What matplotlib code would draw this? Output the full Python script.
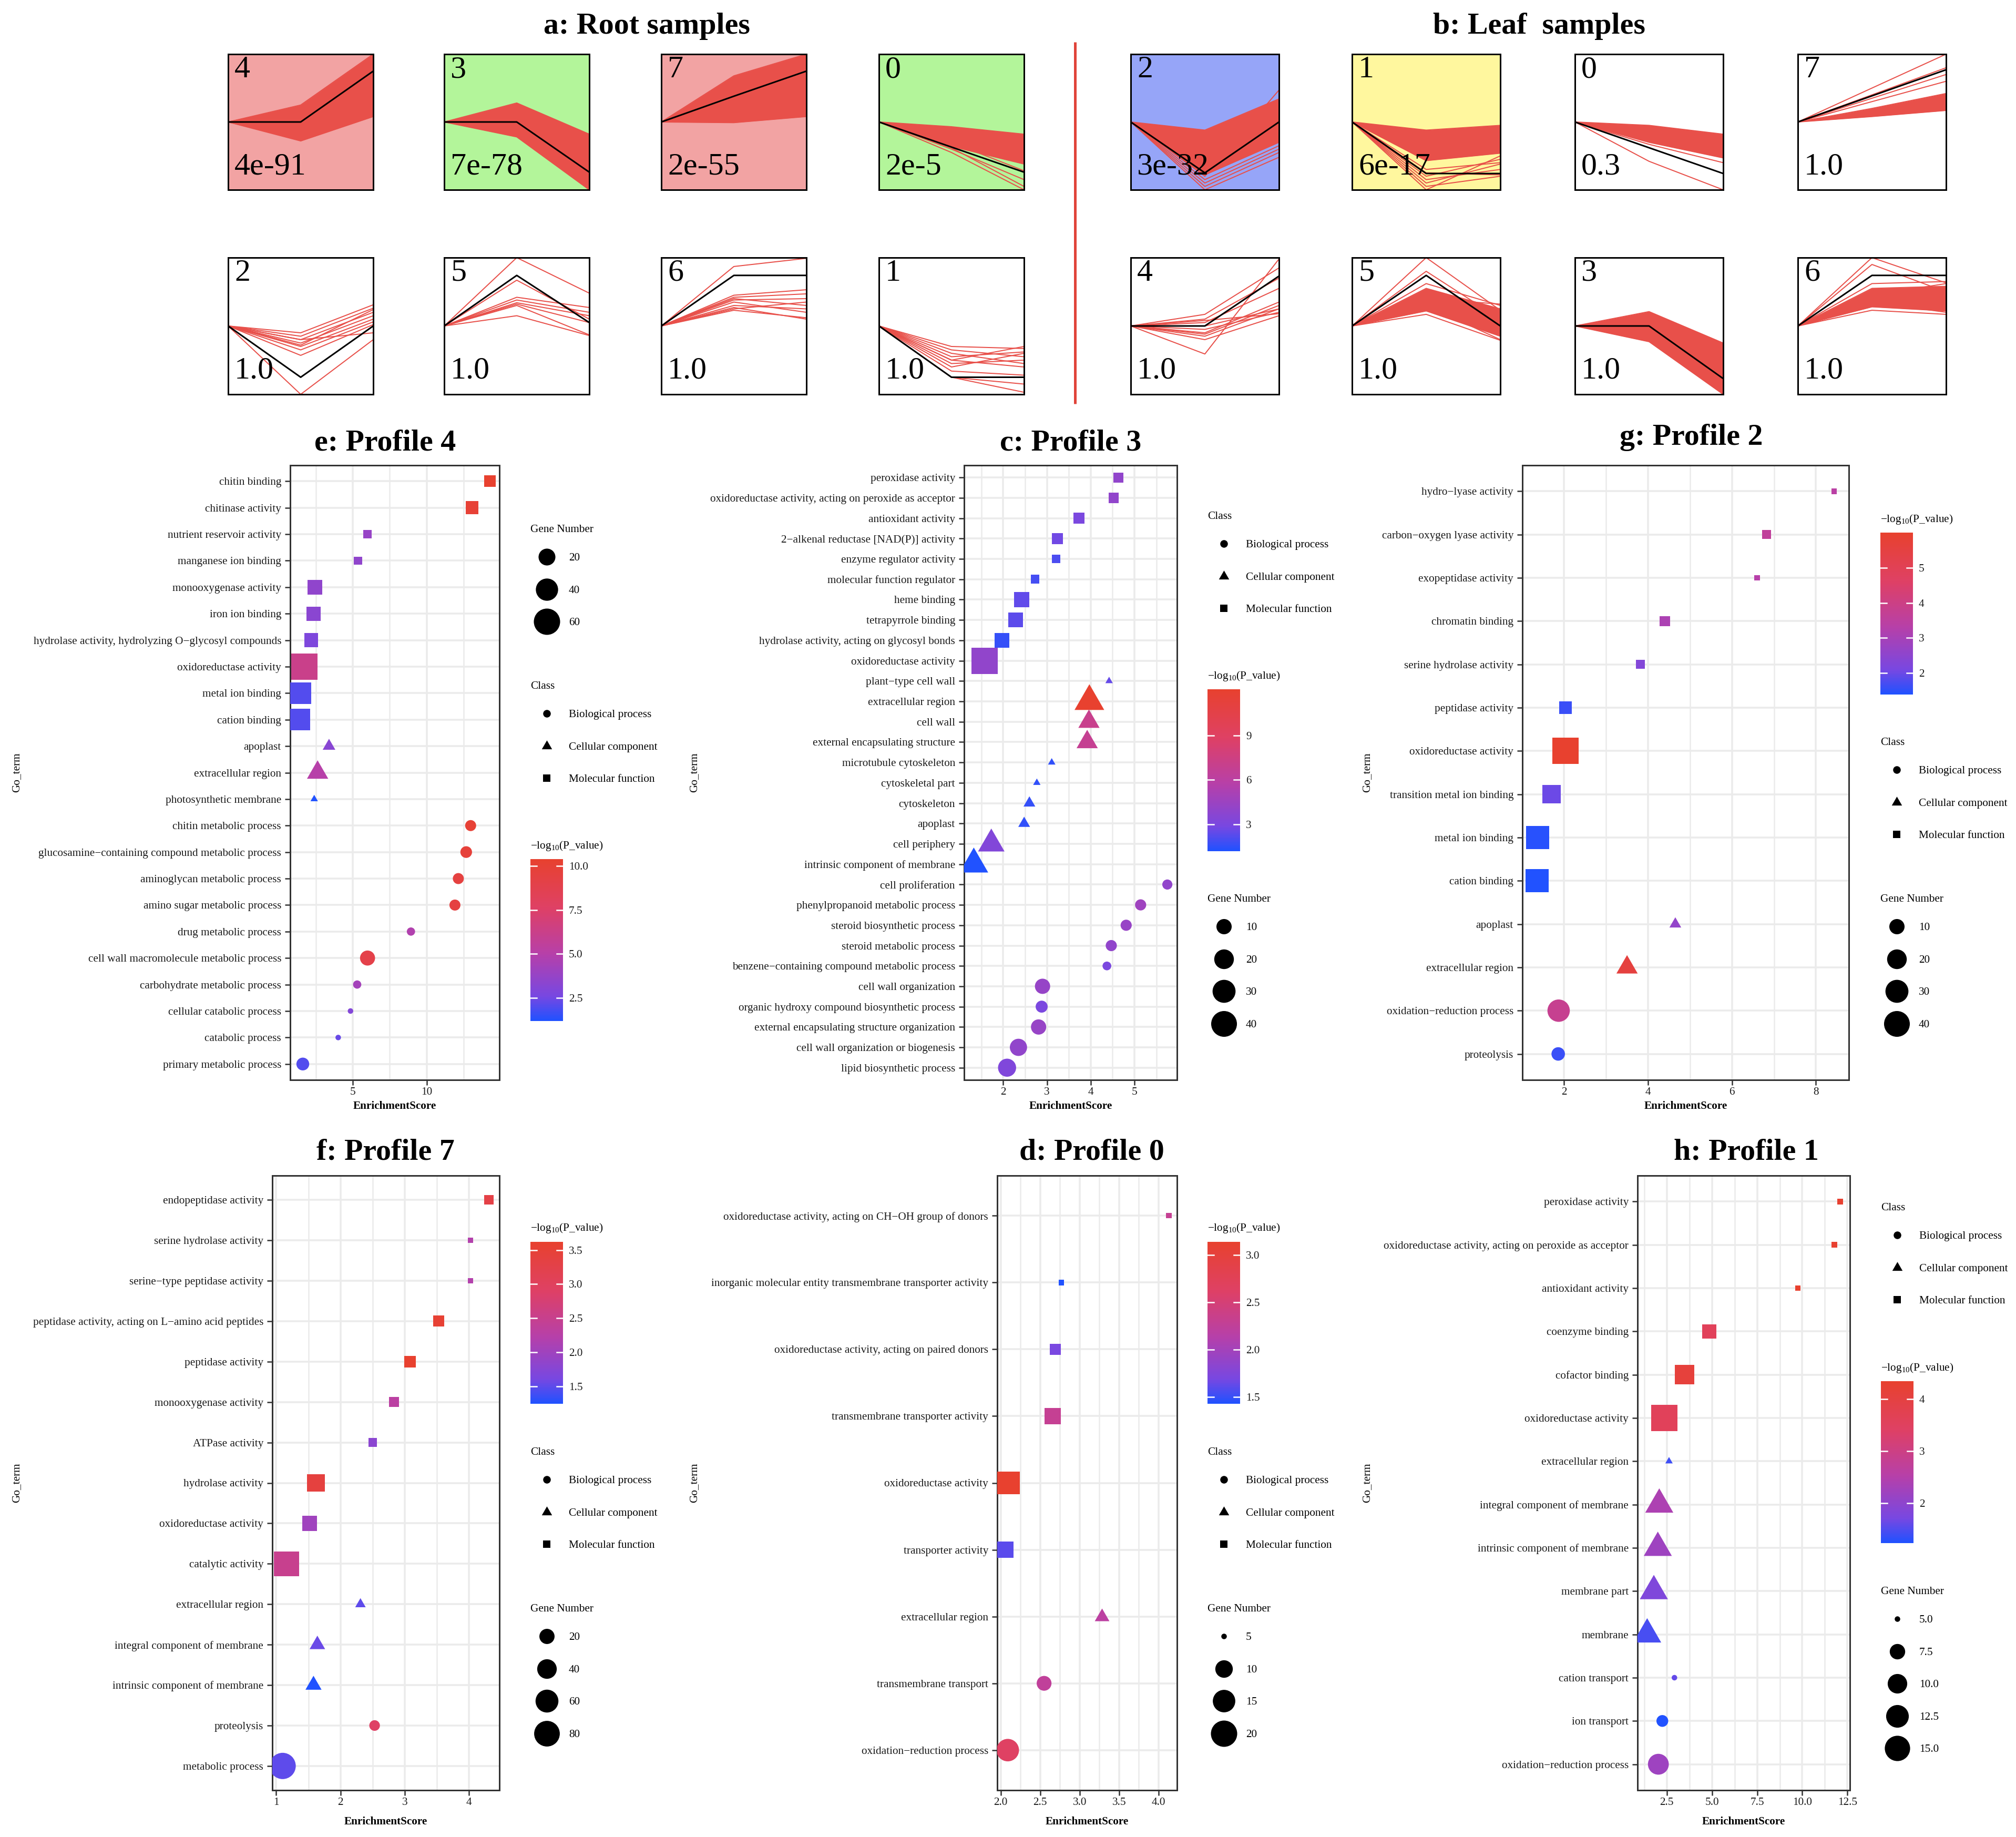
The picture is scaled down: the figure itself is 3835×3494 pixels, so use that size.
import numpy as np
import matplotlib
matplotlib.use("Agg")
import matplotlib.pyplot as plt
from matplotlib.colors import LinearSegmentedColormap, Normalize
from matplotlib.ticker import MultipleLocator, FormatStrFormatter

W, H = 3835, 3494

plt.rcParams['font.family'] = ['Liberation Serif', 'DejaVu Serif']
plt.rcParams['mathtext.fontset'] = 'custom'
plt.rcParams['mathtext.rm'] = 'Liberation Serif'
plt.rcParams['mathtext.it'] = 'Liberation Serif:italic'
plt.rcParams['mathtext.bf'] = 'Liberation Serif:bold'

# ---------------- STEM expression profiles ----------------
time_points = [0, 1, 2]

root_ids = ['4', '3', '7', '0', '2', '5', '6', '1']
root_pvals = ['4e-91', '7e-78', '2e-55', '2e-5', '1.0', '1.0', '1.0', '1.0']
root_bg = ['#f2a3a3', '#b3f59a', '#f2a3a3', '#b3f59a', 'white', 'white', 'white', 'white']
root_model = [[0, 0, 0.75], [0, 0, -0.74], [0, 0.38, 0.75], [0, -0.37, -0.74],
              [0, -0.75, 0], [0, 0.74, 0.05], [0, 0.74, 0.74], [0, -0.75, -0.75]]
root_band_lo = [[0, -0.28, 0.08], [0, -0.22, -1.0], [0, -0.01, 0.08], [0, -0.36, -0.62],
                None, None, None, None]
root_band_hi = [[0, 0.25, 1.0], [0, 0.28, -0.18], [0, 0.68, 1.0], [0, -0.07, -0.18],
                None, None, None, None]
root_genes = [
    [[0, 0.22, 0.95], [0, -0.25, 0.1]],
    [[0, 0.2, -0.9], [0, 0.1, -1.0], [0, -0.15, -0.95]],
    [[0, 0.6, 0.95], [0, 0.05, 0.15]],
    [[0, -0.4, -0.85], [0, -0.45, -1.0], [0, -0.38, -0.95], [0, -0.3, -0.72]],
    [[0, -1.0, -0.2], [0, -0.1, 0.31], [0, -0.15, 0.26], [0, -0.2, 0.2], [0, -0.25, 0.15],
     [0, -0.3, 0.1], [0, -0.35, 0.06], [0, -0.43, 0.02], [0, -0.2, -0.1], [0, -0.28, 0.24]],
    [[0, 1.0, 0.48], [0, 0.67, 0.1], [0, 0.42, 0.27], [0, 0.38, 0.2], [0, 0.34, 0.15],
     [0, 0.3, -0.13], [0, 0.15, -0.14], [0, 0.32, 0.05]],
    [[0, 0.87, 0.99], [0, 0.45, 0.53], [0, 0.42, 0.47], [0, 0.4, 0.3], [0, 0.35, 0.2],
     [0, 0.3, 0.25], [0, 0.27, 0.1], [0, 0.25, 0.35], [0, 0.23, 0.12], [0, 0.38, 0.4]],
    [[0, -0.3, -0.33], [0, -0.35, -0.45], [0, -0.4, -0.55], [0, -0.45, -0.38], [0, -0.5, -0.6],
     [0, -0.55, -0.5], [0, -0.6, -0.4], [0, -0.66, -0.72], [0, -0.75, -0.85], [0, -0.75, -0.97],
     [0, -0.5, -0.3]],
]

leaf_ids = ['2', '1', '0', '7', '4', '5', '3', '6']
leaf_pvals = ['3e-32', '6e-17', '0.3', '1.0', '1.0', '1.0', '1.0', '1.0']
leaf_bg = ['#96a5f8', '#fff79e', 'white', 'white', 'white', 'white', 'white', 'white']
leaf_model = [[0, -0.75, 0], [0, -0.76, -0.76], [0, -0.38, -0.76], [0, 0.385, 0.77],
              [0, 0, 0.73], [0, 0.74, 0.0], [0, 0, -0.77], [0, 0.74, 0.74]]
leaf_band_lo = [[0, -0.78, -0.3], [0, -0.57, -0.46], [0, -0.3, -0.53], [0, 0.08, 0.17],
                None, [0, 0.22, -0.15], [0, -0.23, -1.0], [0, 0.28, 0.22]]
leaf_band_hi = [[0, -0.12, 0.34], [0, -0.12, -0.05], [0, -0.05, -0.18], [0, 0.2, 0.42],
                None, [0, 0.55, 0.25], [0, 0.21, -0.25], [0, 0.55, 0.58]]
leaf_genes = [
    [[0, -1.0, -0.52], [0, -0.95, -0.45], [0, -0.9, -0.4], [0, -0.85, -0.35], [0, -0.8, 0.47]],
    [[0, -1.0, -0.5], [0, -0.95, -0.8], [0, -0.9, -0.62], [0, -0.85, -0.7], [0, -0.8, -0.55],
     [0, -0.75, -0.78], [0, -0.7, -0.6]],
    [[0, -0.58, -1.0], [0, -0.33, -0.6]],
    [[0, 0.5, 1.0], [0, 0.4, 0.8], [0, 0.35, 0.7], [0, 0.3, 0.6]],
    [[0, -0.41, 0.98], [0, 0.17, 0.85], [0, 0.1, 0.7], [0, 0.05, 0.55], [0, -0.1, 0.35],
     [0, -0.15, 0.25], [0, -0.2, 0.15], [0, -0.05, 0.2], [0, 0.0, 0.25], [0, -0.12, 0.3],
     [0, 0.08, 0.18]],
    [[0, 1.0, 0.23], [0, 0.8, 0.1], [0, 0.5, -0.1], [0, 0.62, 0.3], [0, 0.17, -0.21],
     [0, 0.4, 0.32], [0, 0.3, -0.2]],
    [[0, 0.15, -0.95], [0, -0.1, -0.6]],
    [[0, 1.0, 0.63], [0, 0.9, 0.5], [0, 0.62, 0.65], [0, 0.23, 0.17], [0, 0.45, 0.62],
     [0, 0.35, 0.2]],
]

# ---------------- GO enrichment data (top to bottom) ----------------
e_terms = ['chitin binding', 'chitinase activity', 'nutrient reservoir activity',
           'manganese ion binding', 'monooxygenase activity', 'iron ion binding',
           'hydrolase activity, hydrolyzing O\u2212glycosyl compounds', 'oxidoreductase activity',
           'metal ion binding', 'cation binding', 'apoplast', 'extracellular region',
           'photosynthetic membrane', 'chitin metabolic process',
           'glucosamine\u2212containing compound metabolic process', 'aminoglycan metabolic process',
           'amino sugar metabolic process', 'drug metabolic process',
           'cell wall macromolecule metabolic process', 'carbohydrate metabolic process',
           'cellular catabolic process', 'catabolic process', 'primary metabolic process']
e_class = ['MF'] * 10 + ['CC'] * 3 + ['BP'] * 10
e_score = [14.26, 13.05, 6.0, 5.36, 2.46, 2.37, 2.19, 1.75, 1.45, 1.42, 3.4, 2.63, 2.4,
           12.96, 12.66, 12.13, 11.9, 8.93, 6.0, 5.3, 4.85, 4.02, 1.63]
e_genes = [8, 10, 4, 4, 14, 13, 12, 60, 38, 36, 5, 17, 3, 7, 8, 7, 7, 4, 15, 4, 3, 3, 10]
e_logp = [10.39, 10.0, 3.8, 3.5, 3.5, 3.3, 2.8, 6.2, 2.0, 2.0, 3.2, 5.0, 1.18,
          10.0, 9.8, 9.5, 9.4, 4.8, 9.0, 4.3, 3.0, 2.3, 2.0]
e_size_lim = (3, 60)

c_terms = ['peroxidase activity', 'oxidoreductase activity, acting on peroxide as acceptor',
           'antioxidant activity', '2\u2212alkenal reductase [NAD(P)] activity',
           'enzyme regulator activity', 'molecular function regulator', 'heme binding',
           'tetrapyrrole binding', 'hydrolase activity, acting on glycosyl bonds',
           'oxidoreductase activity', 'plant\u2212type cell wall', 'extracellular region', 'cell wall',
           'external encapsulating structure', 'microtubule cytoskeleton', 'cytoskeletal part',
           'cytoskeleton', 'apoplast', 'cell periphery', 'intrinsic component of membrane',
           'cell proliferation', 'phenylpropanoid metabolic process', 'steroid biosynthetic process',
           'steroid metabolic process', 'benzene\u2212containing compound metabolic process',
           'cell wall organization', 'organic hydroxy compound biosynthetic process',
           'external encapsulating structure organization', 'cell wall organization or biogenesis',
           'lipid biosynthetic process']
c_class = ['MF'] * 10 + ['CC'] * 10 + ['BP'] * 10
c_score = [4.63, 4.52, 3.73, 3.24, 3.21, 2.73, 2.42, 2.29, 1.97, 1.58,
           4.42, 3.97, 3.96, 3.92, 3.11, 2.77, 2.6, 2.48, 1.73, 1.33,
           5.75, 5.14, 4.81, 4.47, 4.37, 2.9, 2.88, 2.81, 2.35, 2.09]
c_genes = [3, 3, 4, 4, 2, 2, 10, 9, 9, 42, 1, 27, 11, 11, 1, 1, 2, 2, 20, 25,
           3, 4, 4, 4, 2, 10, 5, 10, 14, 16]
c_logp = [4.0, 4.0, 3.0, 2.7, 2.0, 1.9, 2.4, 2.3, 1.6, 4.0, 2.5, 12.1, 7.0, 6.8, 1.5, 1.5,
          1.6, 1.5, 3.3, 1.19, 4.0, 4.6, 4.3, 4.0, 3.0, 4.2, 3.0, 4.3, 4.0, 3.2]
c_size_lim = (1, 42)

g_terms = ['hydro\u2212lyase activity', 'carbon\u2212oxygen lyase activity', 'exopeptidase activity',
           'chromatin binding', 'serine hydrolase activity', 'peptidase activity',
           'oxidoreductase activity', 'transition metal ion binding', 'metal ion binding',
           'cation binding', 'apoplast', 'extracellular region', 'oxidation\u2212reduction process',
           'proteolysis']
g_class = ['MF'] * 10 + ['CC'] * 2 + ['BP'] * 2
g_score = [8.43, 6.82, 6.6, 4.4, 3.82, 2.03, 2.03, 1.7, 1.37, 1.36, 4.65, 3.5, 1.87, 1.86]
g_genes = [1, 2, 1, 3, 2, 6, 42, 16, 30, 30, 2, 11, 28, 7]
g_logp = [3.4, 3.6, 3.3, 3.1, 2.3, 1.6, 6.0, 2.0, 1.45, 1.39, 2.6, 5.6, 3.8, 1.6]
g_size_lim = (1, 42)

f_terms = ['endopeptidase activity', 'serine hydrolase activity', 'serine\u2212type peptidase activity',
           'peptidase activity, acting on L\u2212amino acid peptides', 'peptidase activity',
           'monooxygenase activity', 'ATPase activity', 'hydrolase activity',
           'oxidoreductase activity', 'catalytic activity', 'extracellular region',
           'integral component of membrane', 'intrinsic component of membrane', 'proteolysis',
           'metabolic process']
f_class = ['MF'] * 10 + ['CC'] * 3 + ['BP'] * 2
f_score = [4.31, 4.02, 4.02, 3.53, 3.08, 2.83, 2.5, 1.62, 1.52, 1.16, 2.31, 1.64, 1.58, 2.53, 1.1]
f_genes = [5, 2, 2, 8, 9, 6, 4, 31, 20, 75, 3, 9, 10, 7, 85]
f_logp = [3.3, 2.2, 2.2, 3.55, 3.62, 2.3, 1.8, 3.4, 2.0, 2.5, 1.5, 1.55, 1.245, 2.9, 1.5]
f_size_lim = (2, 85)

d_terms = ['oxidoreductase activity, acting on CH\u2212OH group of donors',
           'inorganic molecular entity transmembrane transporter activity',
           'oxidoreductase activity, acting on paired donors', 'transmembrane transporter activity',
           'oxidoreductase activity', 'transporter activity', 'extracellular region',
           'transmembrane transport', 'oxidation\u2212reduction process']
d_class = ['MF'] * 6 + ['CC'] + ['BP'] * 2
d_score = [4.13, 2.77, 2.69, 2.66, 2.1, 2.06, 3.28, 2.55, 2.09]
d_genes = [5, 5, 6, 9, 15, 9, 6, 8, 15]
d_logp = [2.3, 1.43, 1.7, 2.3, 3.14, 1.6, 2.2, 2.25, 2.65]
d_size_lim = (5, 20)

h_terms = ['peroxidase activity', 'oxidoreductase activity, acting on peroxide as acceptor',
           'antioxidant activity', 'coenzyme binding', 'cofactor binding', 'oxidoreductase activity',
           'extracellular region', 'integral component of membrane',
           'intrinsic component of membrane', 'membrane part', 'membrane', 'cation transport',
           'ion transport', 'oxidation\u2212reduction process']
h_class = ['MF'] * 6 + ['CC'] * 5 + ['BP'] * 3
h_score = [12.1, 11.78, 9.75, 4.85, 3.49, 2.35, 2.62, 2.08, 2.0, 1.78, 1.41, 2.92, 2.25, 2.03]
h_genes = [5, 5, 5, 7, 10, 16, 5, 11, 11, 11, 11, 5, 6, 11]
h_logp = [4.3, 4.3, 4.34, 3.6, 4.1, 3.6, 1.4, 2.4, 2.2, 1.8, 1.45, 1.6, 1.24, 2.2]
h_size_lim = (5, 16)

class_order = ['BP', 'CC', 'MF']
class_names = ['Biological process', 'Cellular component', 'Molecular function']

# ---------------- styling ----------------
RED = '#e8504a'
cmap = LinearSegmentedColormap.from_list(
    'pv', [(0, '#2152ff'), (0.15, '#7848e2'), (0.42, '#b840a8'), (0.70, '#df4165'), (1.0, '#e8412f')])
tri = np.array([[0, 1.5551], [1.3468, -0.7776], [-1.3468, -0.7776]])
shape_marker = {'BP': 'o', 'CC': tri, 'MF': 's'}
shape_scale = {'BP': 1.0, 'CC': 1.555, 'MF': 1.0}
FS = 21.3


def px_rect(x0, y0, x1, y1):
    return [x0 / W, 1 - y1 / H, (x1 - x0) / W, (y1 - y0) / H]


def diam(g, lim):
    t = np.clip((np.asarray(g, float) - lim[0]) / (lim[1] - lim[0]), 0, 1)
    return 10.5 + 39.5 * np.sqrt(t)


fig = plt.figure(figsize=(W / 72, H / 72), dpi=72)
ov = fig.add_axes([0, 0, 1, 1], zorder=10)
ov.set_xlim(0, W)
ov.set_ylim(H, 0)
ov.axis('off')


def profile_box(x0, y0, w, h, label, pval, bg, model, lo, hi, genes):
    ax = fig.add_axes(px_rect(x0, y0, x0 + w, y0 + h))
    ax.set_xlim(0, 2)
    ax.set_ylim(-1, 1)
    ax.set_facecolor(bg)
    ax.set_xticks([])
    ax.set_yticks([])
    for sp in ax.spines.values():
        sp.set_linewidth(3)
        sp.set_color('black')
    if lo is not None:
        ax.fill_between(time_points, lo, hi, color=RED, lw=0)
        ax.plot(time_points, lo, color=RED, lw=2)
        ax.plot(time_points, hi, color=RED, lw=2)
    for gl in genes:
        ax.plot(time_points, gl, color=RED, lw=2)
    ax.plot(time_points, model, color='black', lw=3)
    ax.text(12 / w, 1 - 44 / h, label, transform=ax.transAxes, fontsize=60,
            ha='left', va='baseline', zorder=6)
    ax.text(12 / w, 30 / h, pval, transform=ax.transAxes, fontsize=60,
            ha='left', va='baseline', zorder=6)


root_x = [434, 845, 1258, 1672]
leaf_x = [2151, 2572, 2996, 3420]
rows_y = [(103, 361), (490, 750)]
for i in range(8):
    r, c = divmod(i, 4)
    ya, yb = rows_y[r]
    profile_box(root_x[c], ya, 276, yb - ya, root_ids[i], root_pvals[i], root_bg[i],
                root_model[i], root_band_lo[i], root_band_hi[i], root_genes[i])
    profile_box(leaf_x[c], ya, 282, yb - ya, leaf_ids[i], leaf_pvals[i], leaf_bg[i],
                leaf_model[i], leaf_band_lo[i], leaf_band_hi[i], leaf_genes[i])

ov.text(1230, 64, 'a: Root samples', fontsize=58, fontweight='bold', ha='center', va='baseline')
ov.text(2928, 64, 'b: Leaf  samples', fontsize=58, fontweight='bold', ha='center', va='baseline')
ov.plot([2045, 2045], [80, 768], color='#e0443a', lw=5, solid_capstyle='butt')


def dot_panel(terms, cls, score, genes, logp, size_lim, lay):
    n = len(terms)
    x0, y0, x1, y1 = lay['box']
    ax = fig.add_axes(px_rect(x0, y0, x1, y1))
    score = np.asarray(score, float)
    genes = np.asarray(genes, float)
    logp = np.asarray(logp, float)
    cls = np.asarray(cls)
    ypos = np.arange(n)[::-1]
    lo, hi = score.min(), score.max()
    pad = 0.05 * (hi - lo)
    ax.set_xlim(lo - pad, hi + pad)
    ax.set_ylim(-0.6, n - 1 + 0.6)
    norm = Normalize(logp.min(), logp.max())
    d = diam(genes, size_lim)
    for k in class_order:
        m = cls == k
        ax.scatter(score[m], ypos[m], s=(d[m] * shape_scale[k]) ** 2, marker=shape_marker[k],
                   c=cmap(norm(logp[m])), linewidths=0, zorder=3)
    ax.set_yticks(ypos)
    ax.set_yticklabels(terms)
    ax.xaxis.set_major_locator(MultipleLocator(lay['xmajor']))
    ax.xaxis.set_minor_locator(MultipleLocator(lay['xmajor'] / 2))
    ax.xaxis.set_major_formatter(FormatStrFormatter(lay['xfmt']))
    ax.grid(which='major', axis='both', color='#ebebeb', lw=3.5)
    ax.grid(which='minor', axis='x', color='#ebebeb', lw=2.5)
    ax.set_axisbelow(True)
    ax.tick_params(axis='both', which='major', length=10, width=2.5, color='#333333',
                   labelsize=FS, labelcolor='#1a1a1a')
    ax.tick_params(axis='y', pad=7)
    ax.tick_params(axis='x', pad=4)
    ax.tick_params(which='minor', length=0)
    for sp in ax.spines.values():
        sp.set_linewidth(3)
        sp.set_color('#333333')

    cx = (x0 + x1) / 2
    ov.text(lay['title'][0], lay['title'][1], lay['name'], fontsize=58, fontweight='bold',
            ha='center', va='baseline')
    ov.text(cx, lay['xlab_y'], 'EnrichmentScore', fontsize=FS, fontweight='bold',
            ha='center', va='center')
    ov.text(lay['ylab_x'], (y0 + y1) / 2, 'Go_term', fontsize=FS, rotation=90,
            ha='center', va='center')

    lx = lay['lx']
    for kind, ty in lay['legends']:
        if kind == 'size':
            ov.text(lx, ty, 'Gene Number', fontsize=FS, ha='left', va='center_baseline')
            for j, b in enumerate(lay['size_breaks']):
                yy = ty + 54 + j * 61.6
                ov.scatter([lx + 31], [yy], s=diam(b, size_lim) ** 2, marker='o',
                           color='black', linewidths=0)
                ov.text(lx + 73, yy, lay['size_fmt'] % b, fontsize=FS, ha='left',
                        va='center_baseline')
        elif kind == 'class':
            ov.text(lx, ty, 'Class', fontsize=FS, ha='left', va='center_baseline')
            for j, k in enumerate(class_order):
                yy = ty + 54 + j * 61.6
                ov.scatter([lx + 31], [yy], s=(14.5 * shape_scale[k]) ** 2,
                           marker=shape_marker[k], color='black', linewidths=0)
                ov.text(lx + 73, yy, class_names[j], fontsize=FS, ha='left',
                        va='center_baseline')
        else:
            ov.text(lx, ty, r'$-\mathrm{log}_{10}$(P_value)', fontsize=FS, ha='left',
                    va='center_baseline')
            cax = fig.add_axes(px_rect(lx, ty + 29, lx + 62, ty + 29 + 308))
            vmin, vmax = logp.min(), logp.max()
            grad = np.linspace(vmin, vmax, 300).reshape(-1, 1)
            cax.imshow(grad, aspect='auto', cmap=cmap, norm=norm, origin='lower',
                       extent=[0, 1, vmin, vmax])
            cax.set_xlim(0, 1)
            cax.set_ylim(vmin, vmax)
            for t in lay['cb_ticks']:
                cax.plot([0, 0.2], [t, t], color='white', lw=2.5)
                cax.plot([0.8, 1], [t, t], color='white', lw=2.5)
            cax.set_xticks([])
            cax.yaxis.tick_right()
            cax.set_yticks(lay['cb_ticks'])
            cax.set_yticklabels([lay['cb_fmt'] % t for t in lay['cb_ticks']])
            cax.tick_params(axis='y', length=0, pad=11, labelsize=FS, labelcolor='#1a1a1a')
            for sp in cax.spines.values():
                sp.set_visible(False)


lay_e = dict(name='e: Profile 4', box=(552, 885, 950, 2054), title=(733, 856), ylab_x=32,
             xlab_y=2104, lx=1009, legends=[('size', 1005), ('class', 1303), ('color', 1605)],
             size_breaks=[20, 40, 60], size_fmt='%g', cb_ticks=[2.5, 5, 7.5, 10], cb_fmt='%.1f',
             xmajor=5, xfmt='%g')
lay_c = dict(name='c: Profile 3', box=(1834, 885, 2239, 2054), title=(2037, 856), ylab_x=1321,
             xlab_y=2104, lx=2297, legends=[('class', 980), ('color', 1282), ('size', 1708)],
             size_breaks=[10, 20, 30, 40], size_fmt='%g', cb_ticks=[3, 6, 9], cb_fmt='%g',
             xmajor=1, xfmt='%g')
lay_g = dict(name='g: Profile 2', box=(2896, 885, 3517, 2054), title=(3217, 846), ylab_x=2601,
             xlab_y=2104, lx=3577, legends=[('color', 984), ('class', 1410), ('size', 1708)],
             size_breaks=[10, 20, 30, 40], size_fmt='%g', cb_ticks=[2, 3, 4, 5], cb_fmt='%g',
             xmajor=2, xfmt='%g')
lay_f = dict(name='f: Profile 7', box=(518, 2236, 950, 3405), title=(733, 2205), ylab_x=32,
             xlab_y=3465, lx=1009, legends=[('color', 2333), ('class', 2760), ('size', 3058)],
             size_breaks=[20, 40, 60, 80], size_fmt='%g', cb_ticks=[1.5, 2.0, 2.5, 3.0, 3.5],
             cb_fmt='%.1f', xmajor=1, xfmt='%g')
lay_d = dict(name='d: Profile 0', box=(1897, 2236, 2239, 3405), title=(2077, 2205), ylab_x=1321,
             xlab_y=3465, lx=2297, legends=[('color', 2333), ('class', 2760), ('size', 3058)],
             size_breaks=[5, 10, 15, 20], size_fmt='%g', cb_ticks=[1.5, 2.0, 2.5, 3.0],
             cb_fmt='%.1f', xmajor=0.5, xfmt='%.1f')
lay_h = dict(name='h: Profile 1', box=(3115, 2236, 3519, 3405), title=(3322, 2205), ylab_x=2601,
             xlab_y=3465, lx=3578, legends=[('class', 2295), ('color', 2598), ('size', 3025)],
             size_breaks=[5, 7.5, 10, 12.5, 15], size_fmt='%.1f', cb_ticks=[2, 3, 4], cb_fmt='%g',
             xmajor=2.5, xfmt='%.1f')

dot_panel(e_terms, e_class, e_score, e_genes, e_logp, e_size_lim, lay_e)
dot_panel(c_terms, c_class, c_score, c_genes, c_logp, c_size_lim, lay_c)
dot_panel(g_terms, g_class, g_score, g_genes, g_logp, g_size_lim, lay_g)
dot_panel(f_terms, f_class, f_score, f_genes, f_logp, f_size_lim, lay_f)
dot_panel(d_terms, d_class, d_score, d_genes, d_logp, d_size_lim, lay_d)
dot_panel(h_terms, h_class, h_score, h_genes, h_logp, h_size_lim, lay_h)

fig.savefig('out.png', dpi=72, facecolor='white')
